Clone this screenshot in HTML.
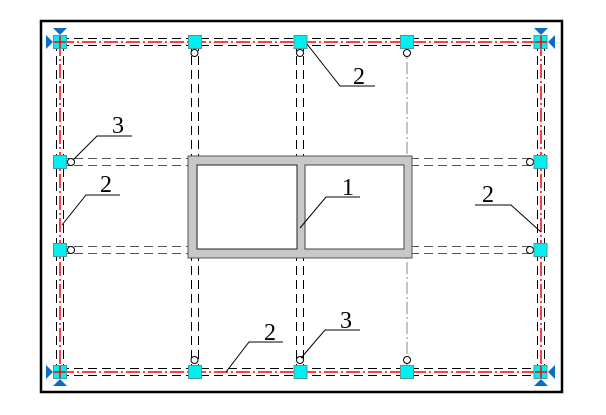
<!DOCTYPE html>
<html><head><meta charset="utf-8"><style>
html,body{margin:0;padding:0;background:#fff;}
svg{display:block;}
text{font-family:"Liberation Serif",serif;font-size:24px;fill:#000;}
</style></head><body>
<svg width="606" height="415" viewBox="0 0 606 415" xmlns="http://www.w3.org/2000/svg">
<rect x="0" y="0" width="606" height="415" fill="#fff"/>
<rect x="41" y="21" width="521" height="371" fill="none" stroke="#000" stroke-width="2.5"/>

<!-- double dashed horizontal lines -->
<g stroke="#000" stroke-width="1" stroke-dasharray="9,5" fill="none">
  <line x1="60" y1="38.5" x2="541" y2="38.5"/>
  <line x1="60" y1="45.5" x2="541" y2="45.5"/>
  <line x1="60" y1="368.5" x2="541" y2="368.5"/>
  <line x1="60" y1="375.5" x2="541" y2="375.5"/>
  <line x1="56.5" y1="42" x2="56.5" y2="372"/>
  <line x1="63.5" y1="42" x2="63.5" y2="372"/>
  <line x1="537.5" y1="42" x2="537.5" y2="372"/>
  <line x1="544.5" y1="42" x2="544.5" y2="372"/>
  <line x1="191.5" y1="42" x2="191.5" y2="372"/>
  <line x1="198.5" y1="42" x2="198.5" y2="372"/>
  <line x1="296.5" y1="42" x2="296.5" y2="372"/>
  <line x1="303.5" y1="42" x2="303.5" y2="372"/>
</g>
<g stroke="#555" stroke-width="1" stroke-dasharray="9,5" fill="none">
  <line x1="60" y1="158.5" x2="541" y2="158.5"/>
  <line x1="60" y1="165.5" x2="541" y2="165.5"/>
  <line x1="60" y1="246.5" x2="541" y2="246.5"/>
  <line x1="60" y1="253.5" x2="541" y2="253.5"/>
</g>
<g stroke="#888" stroke-width="1" stroke-dasharray="12,3,2,3" fill="none">
  <line x1="407" y1="42" x2="407" y2="372"/>
</g>

<!-- box -->
<rect x="188" y="156" width="224" height="102" fill="#c8c8c8" stroke="#555" stroke-width="1"/>
<rect x="197" y="165" width="100" height="84" fill="#fff" stroke="#222" stroke-width="1"/>
<rect x="305" y="165" width="99" height="84" fill="#fff" stroke="#444" stroke-width="1"/>

<!-- red dash-dot perimeter -->
<g stroke="#f00" stroke-width="1.5" stroke-dasharray="14,3,2,3" fill="none">
  <line x1="60" y1="42" x2="541" y2="42"/>
  <line x1="60" y1="372" x2="541" y2="372"/>
  <line x1="60" y1="42" x2="60" y2="372"/>
  <line x1="541" y1="42" x2="541" y2="372"/>
</g>

<!-- small circles -->
<g fill="#fff" stroke="#000" stroke-width="1">
  <circle cx="194.5" cy="53" r="3.5"/><circle cx="300" cy="53" r="3.5"/><circle cx="407" cy="53" r="3.5"/>
  <circle cx="194.5" cy="360" r="3.5"/><circle cx="300" cy="360" r="3.5"/><circle cx="407" cy="360" r="3.5"/>
  <circle cx="71" cy="162" r="3.5"/><circle cx="71" cy="250" r="3.5"/>
  <circle cx="530" cy="162" r="3.5"/><circle cx="530" cy="250" r="3.5"/>
</g>

<!-- cyan squares -->
<g fill="#00f0f0" stroke="#4a9aa0" stroke-width="1">
  <rect x="53.5" y="35.5" width="13" height="13"/>
  <rect x="188.5" y="35.5" width="13" height="13"/>
  <rect x="294" y="35.5" width="13" height="13"/>
  <rect x="400.5" y="35.5" width="13" height="13"/>
  <rect x="534" y="35.5" width="13" height="13"/>
  <rect x="53.5" y="365.5" width="13" height="13"/>
  <rect x="188.5" y="365.5" width="13" height="13"/>
  <rect x="294" y="365.5" width="13" height="13"/>
  <rect x="400.5" y="365.5" width="13" height="13"/>
  <rect x="534" y="365.5" width="13" height="13"/>
  <rect x="53.5" y="155.5" width="13" height="13"/>
  <rect x="53.5" y="243.5" width="13" height="13"/>
  <rect x="534" y="155.5" width="13" height="13"/>
  <rect x="534" y="243.5" width="13" height="13"/>
</g>
<!-- red crosses on corners -->
<g stroke="#f00" stroke-width="1.5">
  <line x1="60" y1="36" x2="60" y2="48"/><line x1="54" y1="42" x2="66" y2="42"/>
  <line x1="541" y1="36" x2="541" y2="48"/><line x1="535" y1="42" x2="547" y2="42"/>
  <line x1="60" y1="366" x2="60" y2="378"/><line x1="54" y1="372" x2="66" y2="372"/>
  <line x1="541" y1="366" x2="541" y2="378"/><line x1="535" y1="372" x2="547" y2="372"/>
</g>

<!-- blue triangles -->
<g fill="#0a6fc0">
  <polygon points="46,35 53,42 46,49"/>
  <polygon points="53,28 67,28 60,35"/>
  <polygon points="555,35 548,42 555,49"/>
  <polygon points="534,28 548,28 541,35"/>
  <polygon points="46,365 53,372 46,379"/>
  <polygon points="53,386 67,386 60,379"/>
  <polygon points="555,365 548,372 555,379"/>
  <polygon points="534,386 548,386 541,379"/>
</g>

<!-- leaders -->
<g stroke="#000" stroke-width="1" fill="none">
  <polyline points="307,44 340,86 375,86"/>
  <polyline points="73,160 97,136 132,136"/>
  <polyline points="62,225 86,195 120,195"/>
  <polyline points="300,228 326,197 360,197"/>
  <polyline points="541,232 511,205 475,205"/>
  <polyline points="226,372 249,342 283,342"/>
  <polyline points="301,358 325,330 360,330"/>
</g>
<text x="353" y="84">2</text>
<text x="112" y="133">3</text>
<text x="100" y="192">2</text>
<text x="342" y="195">1</text>
<text x="482" y="202">2</text>
<text x="264" y="340">2</text>
<text x="340" y="328">3</text>
</svg>
</body></html>
